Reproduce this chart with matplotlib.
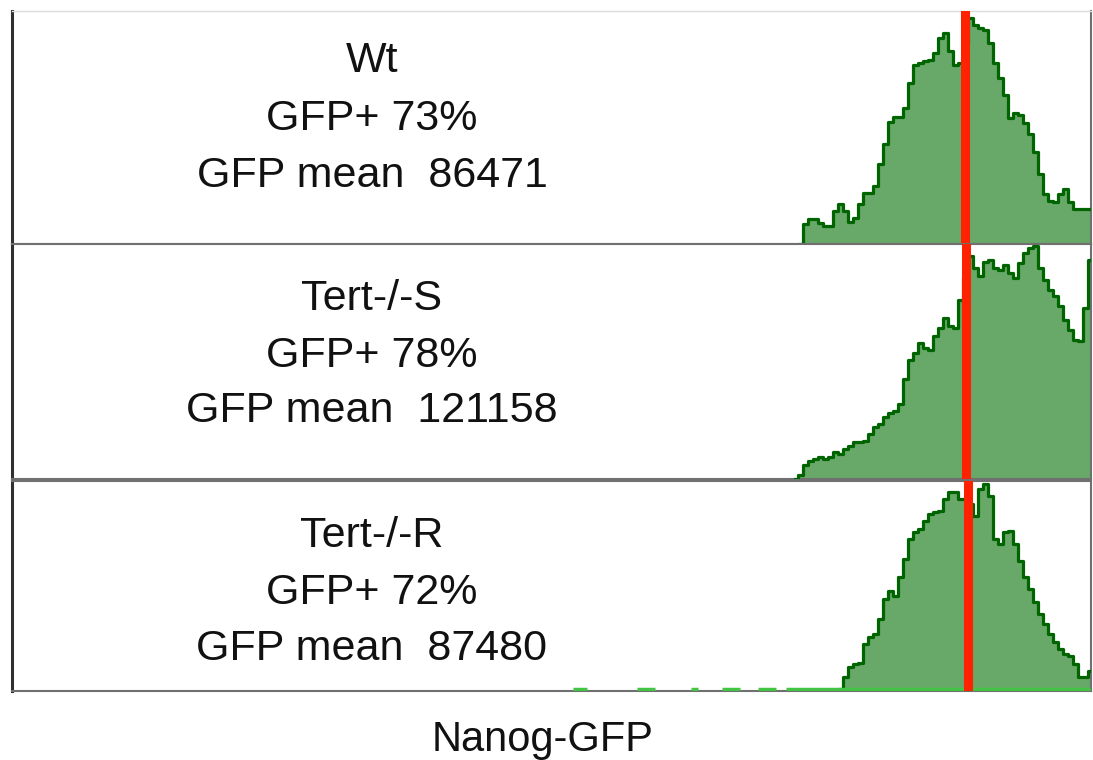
import matplotlib.pyplot as plt
import numpy as np

plt.rcParams['font.family'] = ['Liberation Sans', 'DejaVu Sans']

# Nanog-GFP histograms, 5-channel bins, first bin given by *_start
samples = ['Wt', 'Tert-/-S', 'Tert-/-R']
gfp_pos = [73, 78, 72]
gfp_mean = [86471, 121158, 87480]

wt_start = 788
wt_counts = [0, 20, 25, 25, 21, 18, 18, 33, 40, 33, 22, 26, 40, 51, 51, 58, 80, 100,
             121, 126, 126, 135, 160, 178, 180, 182, 183, 190, 205, 210, 192, 178,
             180, 200, 225, 218, 215, 213, 200, 180, 165, 148, 125, 130, 128, 120,
             110, 92, 70, 50, 43, 42, 50, 55, 42, 35, 35, 35, 35, 35]

ts_start = 783
ts_counts = [0, 4, 14, 18, 20, 22, 20, 22, 27, 25, 30, 33, 37, 37, 38, 45, 52, 55,
             62, 66, 68, 75, 100, 118, 125, 135, 130, 128, 142, 150, 160, 152, 150,
             178, 200, 222, 210, 202, 216, 218, 210, 208, 213, 205, 200, 215, 225,
             230, 232, 210, 198, 188, 182, 172, 158, 148, 138, 137, 170, 218]

tr_start = 828
tr_counts = [0, 12, 22, 25, 26, 45, 52, 55, 70, 90, 98, 93, 112, 130, 150, 157, 160,
             168, 175, 177, 178, 190, 197, 197, 190, 190, 185, 173, 200, 205, 193,
             150, 145, 157, 158, 145, 128, 112, 100, 87, 75, 65, 55, 47, 40, 35, 33,
             25, 12, 12, 18]

# channels with single scattered events in Tert-/-R
tr_sparse = [(561, 575), (625, 643), (679, 686), (710, 728), (746, 764), (774, 1078)]

# position of the reference (Wt median) line in each panel
ref_line = [953, 954, 956]

starts = [wt_start, ts_start, tr_start]
counts = [wt_counts, ts_counts, tr_counts]
ymax = [232, 234, 208]
ymin = [0, 0, -2]

W, H = 1093, 760
fig = plt.figure(figsize=(W / 100, H / 100), dpi=100)

# panel edges in pixels: (top, bottom)
panels = [(11, 244), (244, 479), (481, 691)]
left, right = 12, 1091

# text rows: pixel offsets of each line's centre below the panel top
text_rows = [[50, 108, 165], [55, 112, 167], [55, 112, 168]]

fill_c = '#68a868'
edge_c = '#006400'

for i in range(3):
    top, bot = panels[i]
    ax = fig.add_axes([left / W, 1 - bot / H, (right - left) / W, (bot - top) / H])
    x = starts[i] + 5 * np.arange(len(counts[i]))
    y = np.array(counts[i])
    ax.fill_between(x, y, step='mid', color=fill_c, linewidth=0, zorder=2)
    ax.step(x, y, where='mid', color=edge_c, linewidth=2.3, zorder=3)
    if i == 2:
        for a, b in tr_sparse:
            ax.plot([a, b], [0.5, 0.5], color='#44c444', linewidth=2.5,
                    solid_capstyle='butt', zorder=3)
    ax.axvline(ref_line[i], color='#ff2200', linewidth=6.5, zorder=4)
    ax.set_xlim(0, right - left)
    ax.set_ylim(ymin[i], ymax[i])
    ax.set_xticks([])
    ax.set_yticks([])
    for s in ['top', 'right', 'bottom']:
        ax.spines[s].set_color('#707070')
        ax.spines[s].set_linewidth(1.5)
    ax.spines['left'].set_color('#303030')
    ax.spines['left'].set_linewidth(2.2)
    if i == 0:
        ax.spines['top'].set_color('#dddddd')
        ax.spines['top'].set_linewidth(1)
    lines = [samples[i], 'GFP+ %d%%' % gfp_pos[i], 'GFP mean  %d' % gfp_mean[i]]
    h = bot - top
    for txt, off in zip(lines, text_rows[i]):
        ax.text((372 - left) / (right - left), 1 - off / h, txt, transform=ax.transAxes,
                ha='center', va='center', fontsize=31, color='#111111')

fig.text(543 / W, 1 - 740 / H, 'Nanog-GFP', ha='center', va='center', fontsize=30,
         color='#111111')

fig.savefig('out.png', dpi=100)
